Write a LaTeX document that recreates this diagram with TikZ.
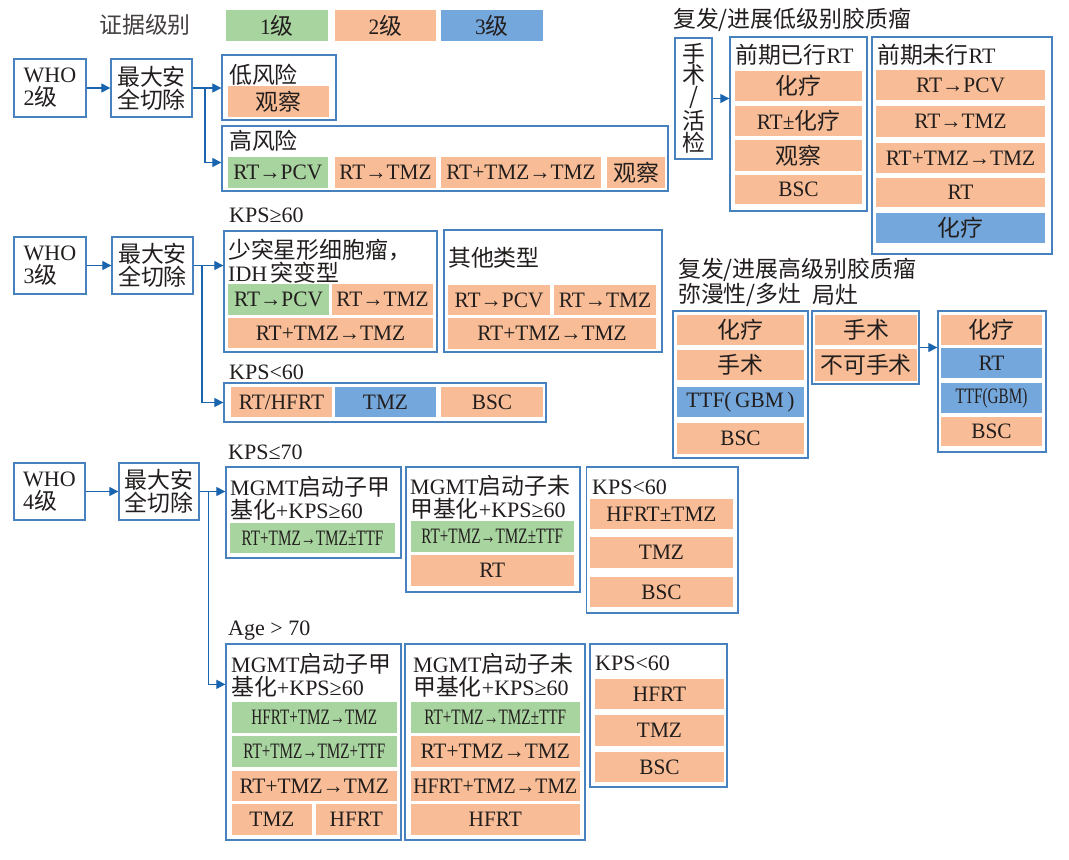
\documentclass[tikz,border=0pt]{standalone}
\usepackage{fontspec}
\setmainfont{Liberation Serif}
\newfontfamily\lat[FakeStretch=0.97]{Liberation Serif}
\newfontfamily\cjk[Scale=1.04]{Noto Sans CJK SC}
\newfontfamily\cond[FakeStretch=0.69]{Liberation Serif}
\newfontfamily\semicond[FakeStretch=0.9]{Liberation Serif}
\usetikzlibrary{arrows.meta,positioning}
\definecolor{GreenLv}{RGB}{168,212,160}
\definecolor{OrangeLv}{RGB}{248,189,150}
\definecolor{BlueLv}{RGB}{116,167,219}
\definecolor{FrameBlue}{RGB}{72,130,190}
\definecolor{ArrowBlue}{RGB}{25,100,175}
\definecolor{InkGray}{RGB}{35,30,30}
\newcommand{\zh}[1]{{\cjk #1}}
% style, name, x1, y1, x2, y2, text (pixel coordinates, y downwards)
\newcommand{\lvcell}[7]{\node[#1, minimum width={#5-#3}, minimum height={#6-#4}] (#2) at ({(#3+#5)/2},{(#4+#6)/2}) {#7};}
\newcommand{\lvitem}[7]{\node[#1, minimum width={#5-#3}, minimum height={#6-#4}] (#2) at ({(#3+#5)/2},{(#4+#6)/2}) {\lat #7};}

\begin{document}
\begin{tikzpicture}[x=1pt, y=-1pt,
	font=\fontsize{22}{23}\selectfont,
	every node/.style={text=InkGray, inner sep=0pt},
	lvgrn/.style={fill=GreenLv},
	lvorg/.style={fill=OrangeLv},
	lvblu/.style={fill=BlueLv},
	frm/.style={draw=FrameBlue, line width=1.3pt},
	box/.style={draw=FrameBlue, line width=1.3pt, align=left},
	lab/.style={anchor=west},
	arr/.style={draw=ArrowBlue, line width=1.2pt, -{Triangle[length=9pt,width=9pt]}}]
	\fill[white] (0,0) rectangle (1069,860);
	\useasboundingbox (0,0) rectangle (1069,860);
	
	% legend
	\node[text=InkGray!85] (lgtitle) at (145,25) {\zh{证据级别}};
	\lvitem{lvgrn}{lg1}{226}{10}{328}{41}{1\zh{级}}
	\lvitem{lvorg}{lg2}{335}{10}{436}{41}{2\zh{级}}
	\lvitem{lvblu}{lg3}{441}{10}{543}{41}{3\zh{级}}
	
	% WHO 2
	\lvcell{box}{who2}{14}{59}{86}{117}{WHO\\2\zh{级}}
	\lvcell{box}{cut2}{111}{59}{192}{117}{\zh{最大安}\\\zh{全切除}}
	\lvcell{frm}{low2}{222}{55}{336}{120}{}
	\node[lab] (low2t) at (229,75) {\zh{低风险}};
	\lvitem{lvorg}{low2a}{227.5}{86}{329}{117}{\zh{观察}}
	\lvcell{frm}{high2}{222}{126}{668}{191}{}
	\node[lab] (high2t) at (229,141) {\zh{高风险}};
	\lvitem{lvgrn}{high2a}{227.5}{157}{328}{188}{RT→PCV}
	\lvitem{lvorg}{high2b}{335}{157}{436}{188}{RT→TMZ}
	\lvitem{lvorg}{high2c}{441}{157}{601}{188}{RT+TMZ→TMZ}
	\lvitem{lvorg}{high2d}{607}{157}{665}{188}{\zh{观察}}
	\coordinate (br2) at (205,88);
	\draw[arr] (who2) -- (cut2);
	\draw[arr] (cut2.east) -- (cut2.east -| low2.west);
	\draw[arr] (br2) |- ([yshift=-4pt]high2.west);
	
	% WHO 3
	\lvcell{box}{who3}{14}{237}{86}{294}{WHO\\3\zh{级}}
	\lvcell{box}{cut3}{112}{237}{193}{294}{\zh{最大安}\\\zh{全切除}}
	\node[lab] (kps3a) at (229,215) {KPS≥60};
	\lvcell{frm}{oli3}{224}{231}{437}{352}{}
	\node[lab, align=left] (oli3t) at (228,261.5) {\zh{少突星形细胞瘤，}\\IDH\,\zh{突变型}};
	\lvitem{lvgrn}{oli3a}{228}{284}{329}{315}{RT→PCV}
	\lvitem{lvorg}{oli3b}{332}{284}{433}{315}{RT→TMZ}
	\lvitem{lvorg}{oli3c}{228}{318}{433}{348}{RT+TMZ→TMZ}
	\lvcell{frm}{oth3}{444}{230}{662}{352}{}
	\node[lab] (oth3t) at (448,258) {\zh{其他类型}};
	\lvitem{lvorg}{oth3a}{448}{285}{550}{315}{RT→PCV}
	\lvitem{lvorg}{oth3b}{554}{285}{656}{315}{RT→TMZ}
	\lvitem{lvorg}{oth3c}{448}{318}{656}{349}{RT+TMZ→TMZ}
	\node[lab] (kps3b) at (229,372) {KPS<60};
	\lvcell{frm}{low3}{224}{383}{546}{422}{}
	\lvitem{lvorg}{low3a}{231}{387}{332}{417}{RT/HFRT}
	\lvitem{lvblu}{low3b}{335}{387}{436}{417}{TMZ}
	\lvitem{lvorg}{low3c}{441}{387}{543}{417}{BSC}
	\coordinate (br3) at (202,265.5);
	\draw[arr] (who3) -- (cut3);
	\draw[arr] (cut3.east) -- (cut3.east -| oli3.west);
	\draw[arr] (br3) |- (low3.west);
	
	% WHO 4
	\lvcell{box}{who4}{14}{463}{85}{520}{WHO\\4\zh{级}}
	\lvcell{box}{cut4}{119}{463}{199}{520}{\zh{最大安}\\\zh{全切除}}
	\node[lab] (kps4) at (228,452) {KPS≤70};
	\lvcell{frm}{m4a}{226}{467}{401}{558}{}
	\node[lab, align=left] (m4at) at (230,498) {MGMT\zh{启动子甲}\\\zh{基化}+KPS≥60};
	\lvitem{lvgrn}{m4a1}{230}{523}{395}{553}{\cond RT+TMZ→TMZ±TTF}
	\lvcell{frm}{m4b}{406}{467}{580}{592}{}
	\node[lab, align=left] (m4bt) at (410,497) {MGMT\zh{启动子未}\\\zh{甲基化}+KPS≥60};
	\lvitem{lvgrn}{m4b1}{410.5}{521}{574}{552}{\cond RT+TMZ→TMZ±TTF}
	\lvitem{lvorg}{m4b2}{410.5}{555}{574}{586}{RT}
	\lvcell{frm}{k4}{586.5}{467}{738}{613}{}
	\node[lab] (k4t) at (592,487) {KPS<60};
	\lvitem{lvorg}{k4a}{590}{499}{733}{529}{HFRT±TMZ}
	\lvitem{lvorg}{k4b}{590}{537}{733}{568}{TMZ}
	\lvitem{lvorg}{k4c}{590}{577}{733}{607}{BSC}
	\node[lab] (age4) at (228,631) {Age > 70};
	\lvcell{frm}{a4a}{226}{644}{401}{840}{}
	\node[lab, align=left] (a4at) at (231,675.5) {MGMT\zh{启动子甲}\\\zh{基化}+KPS≥60};
	\lvitem{lvgrn}{a4a1}{232}{702}{396.5}{733}{\cond HFRT+TMZ→TMZ}
	\lvitem{lvgrn}{a4a2}{232}{736}{396.5}{767}{\cond RT+TMZ→TMZ+TTF}
	\lvitem{lvorg}{a4a3}{232}{771}{396.5}{801}{RT+TMZ→TMZ}
	\lvitem{lvorg}{a4a4}{232}{804}{312}{835}{TMZ}
	\lvitem{lvorg}{a4a5}{316}{804}{396.5}{835}{HFRT}
	\lvcell{frm}{a4b}{405}{644}{585}{840}{}
	\node[lab, align=left] (a4bt) at (413,675.5) {MGMT\zh{启动子未}\\\zh{甲基化}+KPS≥60};
	\lvitem{lvgrn}{a4b1}{410.5}{702}{580}{733}{\cond RT+TMZ→TMZ±TTF}
	\lvitem{lvorg}{a4b2}{410.5}{736}{580}{767}{RT+TMZ→TMZ}
	\lvitem{lvorg}{a4b3}{410.5}{771}{580}{801}{\semicond HFRT+TMZ→TMZ}
	\lvitem{lvorg}{a4b4}{410.5}{804}{580}{835}{HFRT}
	\lvcell{frm}{a4c}{590}{644}{727}{787}{}
	\node[lab] (a4ct) at (595,663) {KPS<60};
	\lvitem{lvorg}{a4c1}{595}{679}{724}{709}{HFRT}
	\lvitem{lvorg}{a4c2}{595}{715}{724}{746}{TMZ}
	\lvitem{lvorg}{a4c3}{595}{752}{724}{782}{BSC}
	\coordinate (br4) at (208.5,491.5);
	\draw[arr] (who4) -- (cut4);
	\draw[arr] (cut4.east) -- (cut4.east -| m4a.west);
	\draw[arr] (br4) |- ([yshift=-41pt]a4a.north west);
	
	% recurrent low grade
	\node[lab] (lgg) at (673,20) {\zh{复发/进展低级别胶质瘤}};
	\lvcell{box, align=center, font=\fontsize{22}{21}\selectfont}{bx}{675}{38}{712}{159}{\zh{手}\\\zh{术}\\\zh{/}\\\zh{活}\\\zh{检}}
	\lvcell{frm}{pre}{730}{37}{867}{211}{}
	\node[lab] (pret) at (735,55) {\zh{前期已行}RT};
	\lvitem{lvorg}{pre1}{735}{71}{862}{101}{\zh{化疗}}
	\lvitem{lvorg}{pre2}{735}{106}{862}{136}{RT±\zh{化疗}}
	\lvitem{lvorg}{pre3}{735}{140}{862}{171}{\zh{观察}}
	\lvitem{lvorg}{pre4}{735}{175}{862}{204}{BSC}
	\lvcell{frm}{npre}{872}{37}{1052}{254}{}
	\node[lab] (npret) at (877,55) {\zh{前期未行}RT};
	\lvitem{lvorg}{npre1}{876}{70}{1045}{100}{RT→PCV}
	\lvitem{lvorg}{npre2}{876}{106}{1045}{137}{RT→TMZ}
	\lvitem{lvorg}{npre3}{876}{143}{1045}{173}{RT+TMZ→TMZ}
	\lvitem{lvorg}{npre4}{876}{178}{1045}{207}{RT}
	\lvitem{lvblu}{npre5}{876}{213}{1045}{243}{\zh{化疗}}
	\draw[arr] (bx.east) -- (bx.east -| pre.west);
	
	% recurrent high grade
	\node[lab] (hgg) at (678,270) {\zh{复发/进展高级别胶质瘤}};
	\node[lab] (hggA) at (678,295) {\zh{弥漫性/多灶}};
	\node[lab] (hggB) at (812,295) {\zh{局灶}};
	\lvcell{frm}{hA}{673}{311}{808}{458}{}
	\lvitem{lvorg}{hA1}{677}{315}{804}{345}{\zh{化疗}}
	\lvitem{lvorg}{hA2}{677}{350}{804}{380}{\zh{手术}}
	\lvitem{lvblu}{hA3}{677}{387}{804}{417}{TTF(\,GBM\,)}
	\lvitem{lvorg}{hA4}{677}{423}{804}{454}{BSC}
	\lvcell{frm}{hB}{812}{311}{919}{384}{}
	\lvitem{lvorg}{hB1}{815}{315}{917}{345}{\zh{手术}}
	\lvitem{lvorg}{hB2}{815}{349}{917}{381}{\zh{不可手术}}
	\lvcell{frm}{hC}{938}{311}{1046}{452}{}
	\lvitem{lvorg}{hC1}{941}{315}{1042}{345}{\zh{化疗}}
	\lvitem{lvblu}{hC2}{941}{348}{1042}{378}{RT}
	\lvitem{lvblu}{hC3}{941}{383}{1042}{413}{\cond TTF(GBM)}
	\lvitem{lvorg}{hC4}{941}{417}{1042}{446}{BSC}
	\draw[arr] (hB.east) -- (hB.east -| hC.west);
\end{tikzpicture}
\end{document}
